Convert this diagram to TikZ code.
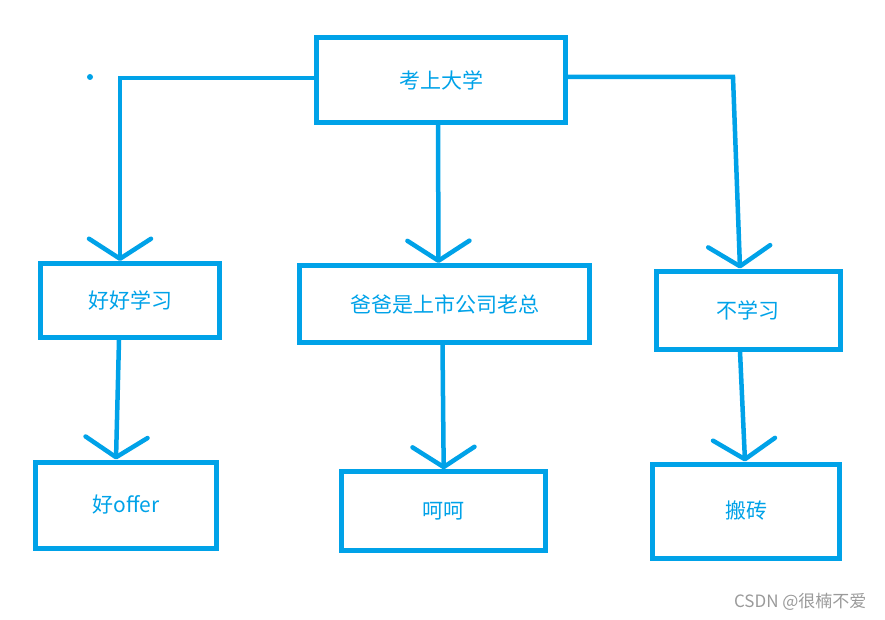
\documentclass[tikz,border=0pt]{standalone}
\usepackage{fontspec}
\setmainfont{Noto Sans CJK SC}
\usetikzlibrary{arrows.meta,positioning}
\definecolor{paint}{HTML}{00A2E8}
\definecolor{wmgray}{HTML}{9A9A9A}

\begin{document}
\begin{tikzpicture}[x=1pt,y=-1pt,font=\fontsize{21}{25}\selectfont,
    box/.style={rectangle,draw=paint,line width=5pt,text=paint,inner sep=0pt},
    link/.style={draw=paint,line width=4.5pt,-{Straight Barb[length=20pt,width=62pt,round]}}]
      \useasboundingbox (0,0) rectangle (885,620);

      % top level box
      \node[box,minimum width=249pt,minimum height=85pt] (daxue) at (441,80) {考上大学};
      \node[circle,fill=paint,inner sep=0pt,minimum size=6pt] (dot) at (90,77) {};

      % middle row
      \node[box,minimum width=179pt,minimum height=74pt] (haohao) at (130,300.5) {好好学习};
      \node[box,minimum width=290pt,minimum height=77pt] (baba) at (444.5,304) {爸爸是上市公司老总};
      \node[box,minimum width=184pt,minimum height=78pt] (buxue) at (748,310) {不学习};

      % bottom row
      \node[box,minimum width=181pt,minimum height=86pt] (offer) at (126,505) {好offer};
      \node[box,minimum width=204pt,minimum height=79pt] (hehe) at (443.7,511.3) {呵呵};
      \node[box,minimum width=187pt,minimum height=94pt] (banzhuan) at (746,511) {搬砖};

      % top -> middle
      \draw[link] ([yshift=2pt]daxue.west) -| ([xshift=-10pt]haohao.north);
      \draw[link] ([xshift=-3pt]daxue.south) -- ([xshift=-6pt]baba.north);
      \draw[link] ([yshift=3pt]daxue.east) -- ++(165,0) -- ([xshift=-8pt]buxue.north);

      % middle -> bottom
      \draw[link] ([xshift=-11pt]haohao.south) -- ([xshift=-10pt]offer.north);
      \draw[link] ([xshift=-2pt]baba.south) -- (hehe.north);
      \draw[link] ([xshift=-8pt]buxue.south) -- ([xshift=-1pt]banzhuan.north);

      % watermark
      \node[anchor=east,text=wmgray,font=\fontsize{17}{20}\selectfont] (csdn) at (870,602) {CSDN @很楠不爱};

   \end{tikzpicture}
\end{document}
